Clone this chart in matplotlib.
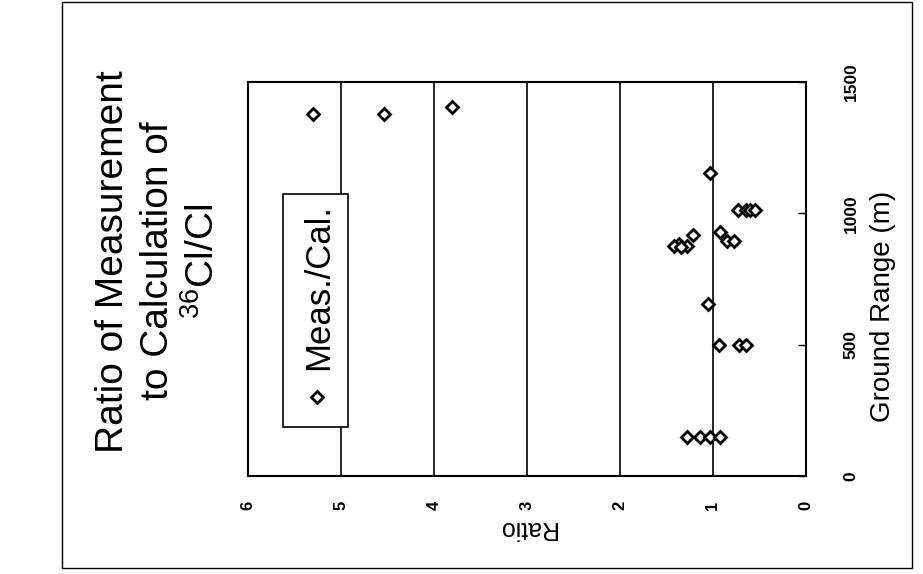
import matplotlib
matplotlib.use("Agg")
import matplotlib.pyplot as plt
from matplotlib.patches import Rectangle

plt.rcParams['font.family'] = ['Liberation Sans', 'DejaVu Sans']
plt.rcParams['mathtext.fontset'] = 'custom'
plt.rcParams['mathtext.rm'] = 'Liberation Sans'
plt.rcParams['mathtext.default'] = 'regular'

ground_range = [1378, 1378, 1406,
                1155,
                1013, 1013, 1013, 1013,
                928, 916, 895, 895, 885, 877, 877, 870,
                656,
                497, 497, 497,
                150, 150, 150, 150]
ratio = [5.30, 4.54, 3.81,
         1.03,
         0.73, 0.64, 0.60, 0.55,
         0.92, 1.22, 0.85, 0.77, 1.36, 1.42, 1.28, 1.34,
         1.05,
         0.94, 0.72, 0.64,
         1.28, 1.14, 1.03, 0.92]

ratio_ticks = [0, 1, 2, 3, 4, 5, 6]
range_ticks = [0, 500, 1000, 1500]

title = "Ratio of Measurement\nto Calculation of\n$^{36}$Cl/Cl"
legend_label = "Meas./Cal."

fig = plt.figure(figsize=(9.23, 5.74), dpi=100)
ax = fig.add_axes([0.2687, 0.1707, 0.6045, 0.6865])

# the whole chart is turned 90 deg: ratio runs right->left, range bottom->top
for r in ratio_ticks[1:-1]:
    ax.axvline(r, color='k', lw=1.2, zorder=1)
ax.plot(ratio, ground_range, 'D', ms=6.5, mfc='white', mec='k', mew=2,
        zorder=5, clip_on=False)

ax.set_xlim(6, 0)
ax.set_ylim(0, 1500)
ax.set_xticks(ratio_ticks)
ax.set_xticklabels([str(t) for t in ratio_ticks], rotation=90, fontsize=12,
                   fontweight='bold')
ax.tick_params(axis='x', length=0, pad=18)
ax.yaxis.tick_right()
ax.set_yticks(range_ticks)
ax.set_yticklabels([str(t) for t in range_ticks], rotation=90, va='center',
                   fontsize=12.5, fontweight='bold')
ax.tick_params(axis='y', direction='in', length=6, width=1, pad=27)
for s in ax.spines.values():
    s.set_linewidth(1.5)

ax.set_xlabel("Ratio", fontsize=18, rotation=180, labelpad=4)
ax.yaxis.set_label_position('right')
ax.set_ylabel("Ground Range (m)", fontsize=20, rotation=90)
ax.yaxis.set_label_coords(1.115, 0.43)

# legend box drawn by hand so it can be turned with the chart
ax.add_patch(Rectangle((0.063, 0.124), 0.116, 0.592, transform=ax.transAxes,
                       facecolor='white', edgecolor='k', lw=1.2, zorder=4))
ax.plot([0.124], [0.2], 'D', ms=6.5, mfc='white', mec='k', mew=2,
        transform=ax.transAxes, zorder=6)
ax.text(0.126, 0.27, legend_label, transform=ax.transAxes, rotation=90,
        ha='center', va='bottom', fontsize=25, zorder=6)

fig.text(0.172, 0.545, title, rotation=90, ha='center', va='center',
         multialignment='center', fontsize=28, linespacing=1.3)

# scanned page border
fig.patches.append(Rectangle((62 / 923, 6 / 574), 850 / 923, 566 / 574,
                             transform=fig.transFigure, fill=False,
                             edgecolor='k', lw=1))

fig.savefig("out.png", dpi=100)
